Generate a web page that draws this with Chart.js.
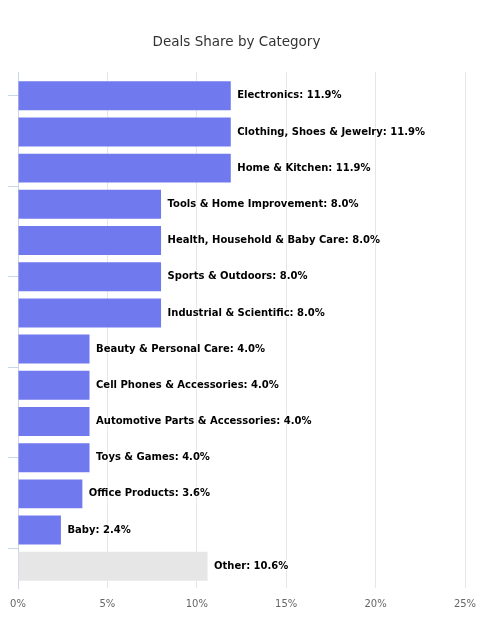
<!DOCTYPE html>
<html>
<head>
<meta charset="utf-8">
<script src="https://cdn.jsdelivr.net/npm/chart.js@4.4.1/dist/chart.umd.min.js"></script>
<style>
  html, body { margin: 0; padding: 0; background: #fff; }
  #wrap { width: 497px; height: 630px; }
</style>
</head>
<body>
<div id="wrap"><canvas id="dealsChart"></canvas></div>
<script>
// data
const categories = [
    'Electronics', 'Clothing, Shoes & Jewelry', 'Home & Kitchen',
    'Tools & Home Improvement', 'Health, Household & Baby Care',
    'Sports & Outdoors', 'Industrial & Scientific', 'Beauty & Personal Care',
    'Cell Phones & Accessories', 'Automotive Parts & Accessories',
    'Toys & Games', 'Office Products', 'Baby', 'Other'
];
const shares = [11.9, 11.9, 11.9, 8.0, 8.0, 8.0, 8.0, 4.0, 4.0, 4.0, 4.0, 3.6, 2.4, 10.6];
const xTicks = [0, 5, 10, 15, 20, 25];
const yTickMarks = [0, 2.5, 5, 7.5, 10, 12.5];

const FONT = '"DejaVu Sans", Verdana, sans-serif';

// bar value labels, placed at the end of each bar
const barLabels = {
    id: 'barLabels',
    afterDatasetsDraw(chart) {
        const ctx = chart.ctx;
        const meta = chart.getDatasetMeta(0);
        ctx.save();
        ctx.font = 'bold 10px ' + FONT;
        ctx.textBaseline = 'middle';
        ctx.textAlign = 'left';
        ctx.lineJoin = 'round';
        meta.data.forEach((bar, i) => {
            const text = categories[i] + ': ' + shares[i].toFixed(1) + '%';
            const x = bar.x + 6.5;
            ctx.lineWidth = 2;
            ctx.strokeStyle = '#fff';
            ctx.strokeText(text, x, bar.y);
            ctx.fillStyle = '#000';
            ctx.fillText(text, x, bar.y);
        });
        ctx.restore();
    }
};

const ctx = document.getElementById('dealsChart');
new Chart(ctx, {
    type: 'bar',
    data: {
        datasets: [{
            data: shares.map((v, i) => ({ x: v, y: i })),
            backgroundColor: categories.map(c => c === 'Other' ? '#e6e6e6' : '#7079ed'),
            categoryPercentage: 1,
            barPercentage: 0.8
        }]
    },
    options: {
        indexAxis: 'y',
        responsive: true,
        maintainAspectRatio: false,
        animation: false,
        layout: { padding: { left: 8, right: 32, top: 0, bottom: 10 } },
        plugins: {
            legend: { display: false },
            tooltip: { enabled: false },
            title: {
                display: true,
                text: 'Deals Share by Category',
                color: '#333',
                font: { family: FONT, size: 13.5, weight: 'normal' },
                padding: { top: 34, bottom: 22 }
            }
        },
        scales: {
            x: {
                type: 'linear',
                position: 'bottom',
                min: 0,
                max: 25,
                afterBuildTicks: scale => { scale.ticks = xTicks.map(v => ({ value: v })); },
                ticks: {
                    color: '#666',
                    font: { family: FONT, size: 10 },
                    padding: 10,
                    callback: v => v + '%'
                },
                grid: { color: '#e6e6e6', drawTicks: false },
                border: { display: false }
            },
            y: {
                type: 'linear',
                reverse: true,
                offset: false,
                min: -0.65,
                max: 13.6,
                afterBuildTicks: scale => { scale.ticks = yTickMarks.map(v => ({ value: v })); },
                ticks: { display: false },
                grid: { offset: false, drawOnChartArea: false, color: '#ccd6eb', tickLength: 10 },
                border: { color: '#ccd6eb', width: 1 }
            }
        }
    },
    plugins: [barLabels]
});
</script>
</body>
</html>
